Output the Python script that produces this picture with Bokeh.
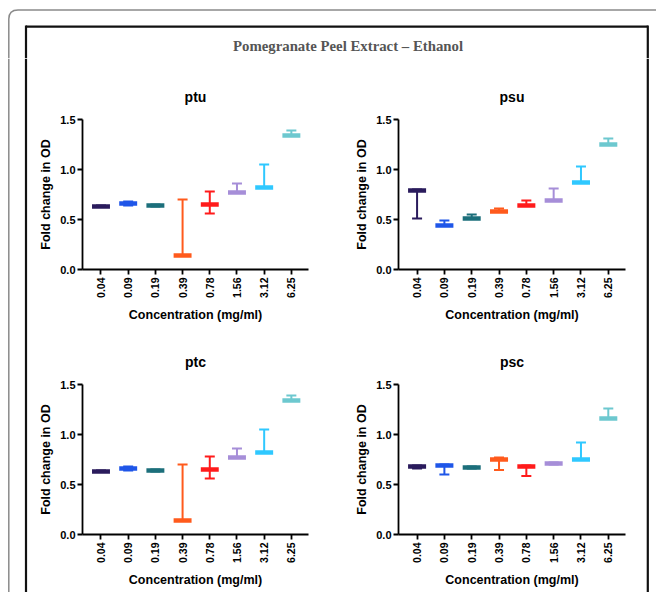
import math
from bokeh.plotting import figure
from bokeh.models import (ColumnDataSource, Range1d, FixedTicker, Whisker, TeeHead,
                          Label, PrintfTickFormatter)
from bokeh.layouts import column, row
from bokeh.embed import file_html
from bokeh.resources import INLINE
from bokeh.core.properties import field

# ---------------- data ----------------
chart_title = "Pomegranate Peel Extract \u2013 Ethanol"
concentrations = ["0.04", "0.09", "0.19", "0.39", "0.78", "1.56", "3.12", "6.25"]
colors = ["#2a1b5c", "#1f56e8", "#1c6f7b", "#ff5a1c",
          "#ff1b1b", "#a68ed8", "#2fc8ff", "#6dc8cf"]
y_ticks = [0.0, 0.5, 1.0, 1.5]

ptu_mean = [0.63, 0.66, 0.64, 0.14, 0.65, 0.77, 0.82, 1.34]
ptu_upper = [0.64, 0.68, 0.65, 0.70, 0.78, 0.86, 1.05, 1.39]
ptu_lower = [0.63, 0.64, 0.63, 0.14, 0.56, 0.77, 0.82, 1.34]

psu_mean = [0.79, 0.44, 0.51, 0.58, 0.64, 0.69, 0.87, 1.25]
psu_upper = [0.80, 0.49, 0.55, 0.61, 0.69, 0.81, 1.03, 1.31]
psu_lower = [0.51, 0.44, 0.51, 0.58, 0.64, 0.69, 0.87, 1.25]

ptc_mean = [0.63, 0.66, 0.64, 0.14, 0.65, 0.77, 0.82, 1.34]
ptc_upper = [0.64, 0.68, 0.65, 0.70, 0.78, 0.86, 1.05, 1.39]
ptc_lower = [0.63, 0.64, 0.63, 0.14, 0.56, 0.77, 0.82, 1.34]

psc_mean = [0.68, 0.69, 0.67, 0.75, 0.68, 0.71, 0.75, 1.16]
psc_upper = [0.69, 0.70, 0.68, 0.77, 0.69, 0.72, 0.92, 1.26]
psc_lower = [0.66, 0.60, 0.66, 0.645, 0.585, 0.70, 0.75, 1.16]

FONT = "Liberation Sans"
GRAY = "#8a8a8a"
BLACK = "#111111"


def blank(w, h, flip=True):
    p = figure(width=w, height=h, x_range=Range1d(0, w),
               y_range=Range1d(h, 0) if flip else Range1d(0, h),
               x_axis_type=None, y_axis_type=None, output_backend="svg",
               toolbar_location=None, min_border=0)
    p.outline_line_color = None
    return p


def panel(name, mean, upper, lower, w, h, left, right, top, bottom):
    p = figure(width=w, height=h, x_range=Range1d(-0.68, 7.63), y_range=Range1d(0, 1.5),
               output_backend="svg", toolbar_location=None,
               min_border_left=left, min_border_right=right,
               min_border_top=top, min_border_bottom=bottom)
    p.outline_line_color = None
    p.xgrid.visible = False
    p.ygrid.visible = False

    p.title.text = name
    p.title.align = "center"
    p.title.text_font = FONT
    p.title.text_font_style = "bold"
    p.title.text_font_size = "14px"
    p.title.text_color = "black"
    p.title.standoff = 30

    xs = list(range(len(concentrations)))
    src = ColumnDataSource(dict(x=xs, mean=mean, upper=upper, lower=lower, color=colors))

    wh = Whisker(base="x", upper="upper", lower="lower", source=src,
                 line_color=field("color"), line_width=2,
                 upper_head=TeeHead(size=10, line_color=field("color"), line_width=2),
                 lower_head=TeeHead(size=10, line_color=field("color"), line_width=2))
    p.add_layout(wh)
    p.rect(x="x", y="mean", width=0.66, height=4.5, height_units="screen",
           fill_color="color", line_color=None, source=src)

    p.xaxis.ticker = FixedTicker(ticks=xs)
    p.xaxis.major_label_overrides = {i: c for i, c in enumerate(concentrations)}
    p.xaxis.major_label_orientation = math.pi / 2
    p.yaxis.ticker = FixedTicker(ticks=y_ticks)
    p.yaxis.formatter = PrintfTickFormatter(format="%.1f")
    p.xaxis.axis_label = "Concentration (mg/ml)"
    p.yaxis.axis_label = "Fold change in OD"
    for ax in (p.xaxis, p.yaxis):
        ax.axis_line_color = "black"
        ax.axis_line_width = 1.8
        ax.major_tick_line_color = "black"
        ax.major_tick_line_width = 1.8
        ax.major_tick_out = 5
        ax.major_tick_in = 0
        ax.minor_tick_line_color = None
        ax.major_label_text_font = FONT
        ax.major_label_text_font_style = "bold"
        ax.major_label_text_color = "black"
        ax.axis_label_text_font = FONT
        ax.axis_label_text_font_style = "bold"
        ax.axis_label_text_font_size = "12.5px"
        ax.axis_label_text_color = "black"
    p.xaxis.major_label_text_font_size = "10.5px"
    p.yaxis.major_label_text_font_size = "11px"
    p.xaxis.major_label_standoff = 3
    p.yaxis.major_label_standoff = 2
    p.xaxis.axis_label_standoff = 7
    p.yaxis.axis_label_standoff = 4
    return p


# ---- header: main title and top part of the frame ----
header = blank(656, 58)
header.segment(x0=[17.5, 25.5], y0=[9.5, 26.2], x1=[656, 647.3], y1=[9.5, 26.2],
               line_color=[GRAY, BLACK], line_width=[1.5, 2.2])
header.quadratic(x0=8.3, y0=18.5, x1=17.5, y1=9.5, cx=8.3, cy=9.5,
                 line_color=GRAY, line_width=1.5)
header.segment(x0=[8.3, 25.5, 647.3], y0=[18.5, 25.1, 25.1],
               x1=[8.3, 25.5, 647.3], y1=[58, 58, 58],
               line_color=[GRAY, BLACK, BLACK], line_width=[1.5, 2.2, 2.2])
header.add_layout(Label(x=347.5, y=45, text=chart_title, text_align="center",
                        text_baseline="middle", text_font="Liberation Serif",
                        text_font_style="bold", text_font_size="14.8px",
                        text_color="#555555"))

# ---- side strips of the frame ----
left_strip = blank(28, 534)
left_strip.segment(x0=[8.3, 25.5], y0=[0, 0], x1=[8.3, 25.5], y1=[534, 534],
                   line_color=[GRAY, BLACK], line_width=[1.5, 2.2])
right_strip = blank(14, 534)
right_strip.segment(x0=[5.3], y0=[0], x1=[5.3], y1=[534],
                    line_color=BLACK, line_width=2.2)

p1 = panel("ptu", ptu_mean, ptu_upper, ptu_lower, 300, 270, 54, 20, 61, 59)
p2 = panel("psu", psu_mean, psu_upper, psu_lower, 314, 270, 70, 17, 60, 59)
p3 = panel("ptc", ptc_mean, ptc_upper, ptc_lower, 300, 264, 54, 20, 56, 58)
p4 = panel("psc", psc_mean, psc_upper, psc_lower, 314, 264, 70, 17, 56, 57)

layout = column(header,
                row(left_strip, column(row(p1, p2), row(p3, p4)), right_strip))

open("out.html", "w").write(file_html(layout, INLINE))
